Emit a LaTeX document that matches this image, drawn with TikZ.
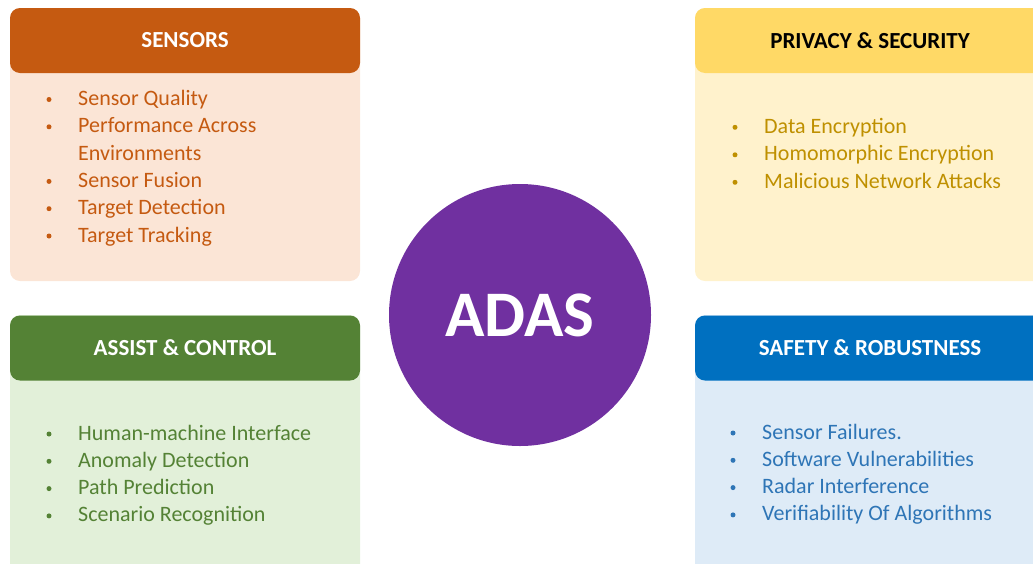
\documentclass[tikz,border=0pt]{standalone}
\usepackage{fontspec}
\setmainfont{Carlito}
\definecolor{sensH}{HTML}{C55A11}
\definecolor{sensB}{HTML}{FBE5D6}
\definecolor{privH}{HTML}{FFD966}
\definecolor{privB}{HTML}{FFF2CC}
\definecolor{privT}{HTML}{BF9000}
\definecolor{assH}{HTML}{548235}
\definecolor{assB}{HTML}{E2F0D9}
\definecolor{safH}{HTML}{0070C0}
\definecolor{safB}{HTML}{DEEBF7}
\definecolor{safT}{HTML}{2E75B6}
\definecolor{adas}{HTML}{7030A0}
\begin{document}
\begin{tikzpicture}[x=1pt,y=-1pt,
  bodybox/.style={rounded corners=10pt, minimum width=350, minimum height=273, inner sep=0, draw=none},
  hdrbox/.style={rounded corners=10pt, minimum width=350, minimum height=65, inner sep=0, draw=none,
    font=\fontsize{23}{23}\selectfont\bfseries},
  item/.style={font=\fontsize{22}{22}\selectfont, anchor=base west, inner sep=0},
  bul/.style={circle, minimum size=5, inner sep=0, draw=none}]
\useasboundingbox (0,0) rectangle (1033,563);
\clip (0,0) rectangle (1033,563);
% SENSORS
\node[bodybox, fill=sensB] (sb) at (185,144.5) {};
\node[hdrbox, fill=sensH, text=white] (sh) at (185,40.5) {SENSORS};
\foreach \t/\y/\b [count=\i] in {Sensor Quality/105.5/1, Performance Across/132.8/1, Environments/160.1/0, Sensor Fusion/187.4/1, Target Detection/214.7/1, Target Tracking/242/1}{
  \node[item, text=sensH] (s\i) at (78,\y) {\t};
  \ifnum\b=1 \node[bul, fill=sensH] (sd\i) at (49,\y-6) {};\fi
}
% PRIVACY
\node[bodybox, fill=privB] (pb) at (870,144.5) {};
\node[hdrbox, fill=privH, text=black] (ph) at (870,40.5) {PRIVACY \& SECURITY};
\foreach \t/\y [count=\i] in {Data Encryption/133.3, Homomorphic Encryption/160.8, Malicious Network Attacks/188.3}{
  \node[item, text=privT] (p\i) at (764,\y) {\t};
  \node[bul, fill=privT] (pd\i) at (735,\y-6) {};
}
% ASSIST
\node[bodybox, fill=assB] (ab) at (185,451.5) {};
\node[hdrbox, fill=assH, text=white] (ah) at (185,348) {ASSIST \& CONTROL};
\foreach \t/\y [count=\i] in {Human-machine Interface/440, Anomaly Detection/467.3, Path Prediction/494.6, Scenario Recognition/521.9}{
  \node[item, text=assH] (a\i) at (78,\y) {\t};
  \node[bul, fill=assH] (ad\i) at (49,\y-6) {};
}
% SAFETY
\node[bodybox, fill=safB] (fb) at (870,451.5) {};
\node[hdrbox, fill=safH, text=white] (fh) at (870,348) {SAFETY \& ROBUSTNESS};
\foreach \t/\y [count=\i] in {Sensor Failures./439, Software Vulnerabilities/466.3, Radar Interference/493.6, Verifiability Of Algorithms/520.9}{
  \node[item, text=safT] (f\i) at (762,\y) {\t};
  \node[bul, fill=safT] (fd\i) at (733,\y-6) {};
}
% ADAS
\node[circle, fill=adas, minimum size=262, inner sep=0, text=white,
  font=\fontsize{65}{65}\selectfont\bfseries] (adas) at (520,315) {ADAS};
\end{tikzpicture}
\end{document}
